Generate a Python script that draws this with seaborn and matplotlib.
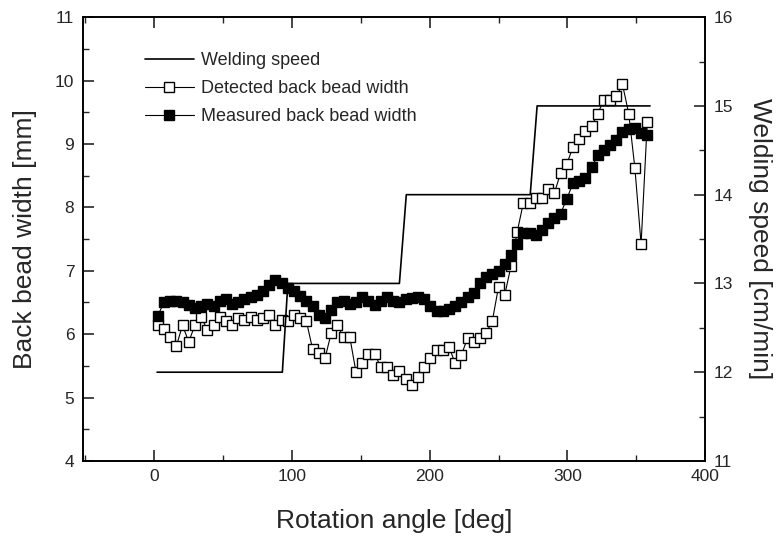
import matplotlib
matplotlib.use("Agg")
import matplotlib.pyplot as plt
from matplotlib.ticker import MultipleLocator
import seaborn as sns
import numpy as np

# ---------------- data ----------------
angle = [2.5, 7, 11.5, 16, 20.5, 25, 29.5, 34, 38.5, 43, 47.5, 52, 56.5, 61, 65.5, 70,
         74.5, 79, 83.5, 88, 92.5, 97, 101.5, 106, 110.5, 115, 119.5, 124, 128.5, 133,
         137.5, 142, 146.5, 151, 155.5, 160, 164.5, 169, 173.5, 178, 182.5, 187, 191.5,
         196, 200.5, 205, 209.5, 214, 218.5, 223, 227.5, 232, 236.5, 241, 245.5, 250,
         254.5, 259, 263.5, 268, 272.5, 277, 281.5, 286, 290.5, 295, 299.5, 304, 308.5,
         313, 317.5, 322, 326.5, 331, 335.5, 340, 344.5, 349, 353.5, 358]

detected = [6.14, 6.08, 5.96, 5.81, 6.14, 5.88, 6.14, 6.27, 6.07, 6.14,
            6.27, 6.21, 6.14, 6.25, 6.22, 6.27, 6.22, 6.25, 6.30, 6.14,
            6.22, 6.20, 6.30, 6.25, 6.20, 5.76, 5.70, 5.62, 6.02, 6.14,
            5.95, 5.95, 5.40, 5.54, 5.69, 5.69, 5.48, 5.48, 5.36, 5.42,
            5.30, 5.20, 5.33, 5.48, 5.62, 5.75, 5.75, 5.80, 5.54, 5.67,
            5.94, 5.88, 5.94, 6.02, 6.21, 6.75, 6.62, 7.07, 7.61, 8.07,
            8.07, 8.15, 8.15, 8.29, 8.22, 8.54, 8.68, 8.95, 9.08, 9.20,
            9.28, 9.48, 9.69, 9.69, 9.75, 9.94, 9.48, 8.62, 7.42, 9.35]

measured = [6.29, 6.50, 6.52, 6.53, 6.50, 6.46, 6.42, 6.44, 6.47, 6.45,
            6.52, 6.55, 6.48, 6.50, 6.55, 6.58, 6.62, 6.68, 6.78, 6.85,
            6.80, 6.73, 6.68, 6.60, 6.52, 6.45, 6.30, 6.25, 6.38, 6.50,
            6.52, 6.47, 6.50, 6.58, 6.52, 6.46, 6.52, 6.58, 6.52, 6.50,
            6.55, 6.57, 6.58, 6.55, 6.45, 6.36, 6.37, 6.40, 6.45, 6.50,
            6.58, 6.65, 6.80, 6.90, 6.95, 7.00, 7.10, 7.25, 7.42, 7.60,
            7.60, 7.56, 7.65, 7.75, 7.83, 7.90, 8.13, 8.38, 8.42, 8.47,
            8.63, 8.82, 8.90, 8.98, 9.07, 9.19, 9.23, 9.25, 9.18, 9.14]

speed_angle = [2, 93, 97, 178, 183, 273, 278, 360]
speed = [12, 12, 13, 13, 14, 14, 15, 15]

x_ticks = [0, 100, 200, 300, 400]
left_ticks = [4, 5, 6, 7, 8, 9, 10, 11]
right_ticks = [11, 12, 13, 14, 15, 16]

# ---------------- style ----------------
sns.set_style("ticks")
plt.rcParams["font.family"] = ["Liberation Sans", "DejaVu Sans"]
plt.rcParams["axes.linewidth"] = 1.2

fig = plt.figure(figsize=(7.8, 5.36), dpi=100)
ax = fig.add_axes([0.106, 0.140, 0.798, 0.828])
ax2 = ax.twinx()

sns.lineplot(x=speed_angle, y=speed, ax=ax2, color="black", linewidth=1.2,
             estimator=None, sort=False, label="Welding speed")
sns.lineplot(x=angle, y=detected, ax=ax, color="black", linewidth=0.8,
             marker="s", markersize=7, markerfacecolor="white",
             markeredgecolor="black", markeredgewidth=1.0,
             estimator=None, label="Detected back bead width")
sns.lineplot(x=angle, y=measured, ax=ax, color="black", linewidth=0.8,
             marker="s", markersize=7, markerfacecolor="black",
             markeredgecolor="black", markeredgewidth=1.0,
             estimator=None, label="Measured back bead width")

ax.set_xlim(-52, 400)
ax.set_ylim(4, 11)
ax2.set_ylim(11, 16)
ax.set_xticks(x_ticks)
ax.set_yticks(left_ticks)
ax2.set_yticks(right_ticks)
ax.xaxis.set_minor_locator(MultipleLocator(50))
ax.yaxis.set_minor_locator(MultipleLocator(0.5))
ax2.yaxis.set_minor_locator(MultipleLocator(0.5))

ax.tick_params(axis="both", which="major", direction="in", length=8, width=1.2,
               labelsize=12.5, top=True, right=False, pad=6)
ax.tick_params(axis="both", which="minor", direction="in", length=4, width=1.0,
               top=True, right=False)
ax2.tick_params(axis="y", which="major", direction="in", length=8, width=1.2,
                labelsize=12.5, pad=6)
ax2.tick_params(axis="y", which="minor", direction="in", length=4, width=1.0)
for a in (ax, ax2):
    for s in a.spines.values():
        s.set_visible(True)
        s.set_linewidth(1.2)
        s.set_color("black")

ax.set_xlabel("Rotation angle [deg]", fontsize=19, labelpad=18)
ax.set_ylabel("Back bead width [mm]", fontsize=19, labelpad=13)
ax2.set_ylabel("Welding speed [cm/min]", fontsize=19, rotation=-90, labelpad=28)

h2, l2 = ax2.get_legend_handles_labels()
h1, l1 = ax.get_legend_handles_labels()
if ax.get_legend():
    ax.get_legend().remove()
if ax2.get_legend():
    ax2.get_legend().remove()
leg = ax2.legend(h2 + h1, l2 + l1, loc="upper left",
                 bbox_to_anchor=(145 / 780, 1 - 52 / 536),
                 bbox_transform=fig.transFigure, frameon=False, fontsize=13,
                 handlelength=2.7, handletextpad=0.4, labelspacing=0.62,
                 borderpad=0, borderaxespad=0)

fig.savefig("out.png", dpi=100)
